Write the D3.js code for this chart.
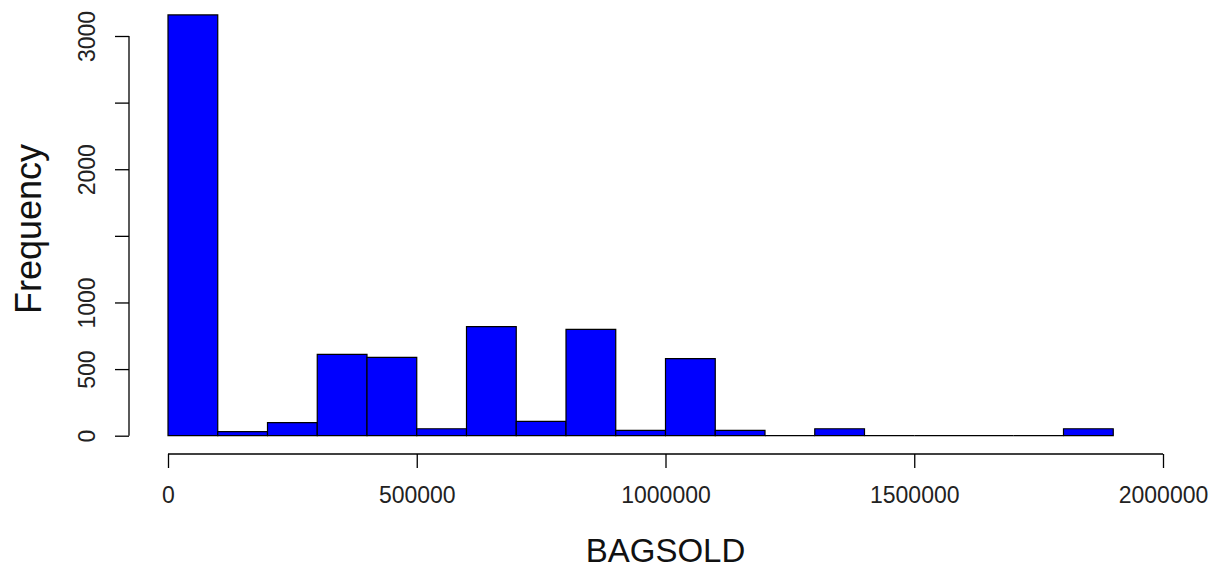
<!DOCTYPE html>
<html>
<head>
<meta charset="utf-8">
<script src="https://cdn.jsdelivr.net/npm/d3@7"></script>
<style>
html,body{margin:0;padding:0;background:#fff;}
svg{display:block;font-family:"Liberation Sans",Arial,sans-serif;}
</style>
</head>
<body>
<svg id="chart" width="1220" height="572"></svg>
<script>
const binStarts = [0,100000,200000,300000,400000,500000,600000,700000,800000,900000,1000000,1100000,1200000,1300000,1400000,1500000,1600000,1700000,1800000];
const binWidth = 100000;
const counts = [3158,30,98,610,588,52,818,108,798,40,578,40,0,52,0,0,0,0,52];
const xTicks = [0,500000,1000000,1500000,2000000];
const yTicks = [0,500,1000,1500,2000,2500,3000];
const yTickLabelsShown = [0,500,1000,2000,3000];
const xTitle = "BAGSOLD";
const yTitle = "Frequency";

const svg = d3.select("#chart");
const x = d3.scaleLinear().domain([0,2000000]).range([168,1163]);
const y = d3.scaleLinear().domain([0,3000]).range([435.7,36]);

const bins = binStarts.map((s,i)=>({x0:s,x1:s+binWidth,n:counts[i]}));

svg.append("g").selectAll("path").data(bins).join("path")
  .attr("d",d=>{
    const x0=x(d.x0), x1=x(d.x1), y0=y(0), y1=y(d.n);
    return `M${x0},${y0}V${y1}H${x1}V${y0}Z`;
  })
  .attr("fill","#0000FF")
  .attr("stroke","#000")
  .attr("stroke-width",1.2);

// x axis
const xAxis = d3.axisBottom(x).tickValues(xTicks).tickFormat(d3.format("d")).tickSize(14).tickPadding(19).tickSizeOuter(0);
const gx = svg.append("g").attr("transform","translate(0,454)").call(xAxis);
gx.select(".domain").attr("stroke","#000").attr("stroke-width",1.3).attr("d",`M${x(0)},0H${x(2000000)}`);
gx.selectAll(".tick line").attr("stroke","#000").attr("stroke-width",1.3);
gx.selectAll(".tick text").attr("font-size",23).attr("fill","#222").attr("font-family","Liberation Sans, Arial, sans-serif");

// y axis
const fmt = d3.format("d");
const yAxis = d3.axisLeft(y).tickValues(yTicks)
  .tickFormat(d=>yTickLabelsShown.includes(d)?fmt(d):"")
  .tickSize(14).tickSizeOuter(0);
const gy = svg.append("g").attr("transform","translate(129,0)").call(yAxis);
gy.select(".domain").attr("stroke","#000").attr("stroke-width",1.3).attr("d",`M0,${y(0)}V${y(3000)}`);
gy.selectAll(".tick line").attr("stroke","#000").attr("stroke-width",1.3);
gy.selectAll(".tick text")
  .attr("font-size",23).attr("fill","#222").attr("font-family","Liberation Sans, Arial, sans-serif")
  .attr("x",null).attr("dy",null)
  .attr("text-anchor","middle")
  .attr("transform","translate(-34,0) rotate(-90)");

// titles
svg.append("text").attr("x",665.5).attr("y",562)
  .attr("text-anchor","middle").attr("font-size",33).attr("fill","#111").text(xTitle);
svg.append("text").attr("transform","translate(41,229) rotate(-90)")
  .attr("text-anchor","middle").attr("font-size",36).attr("fill","#111").text(yTitle);
</script>
</body>
</html>
